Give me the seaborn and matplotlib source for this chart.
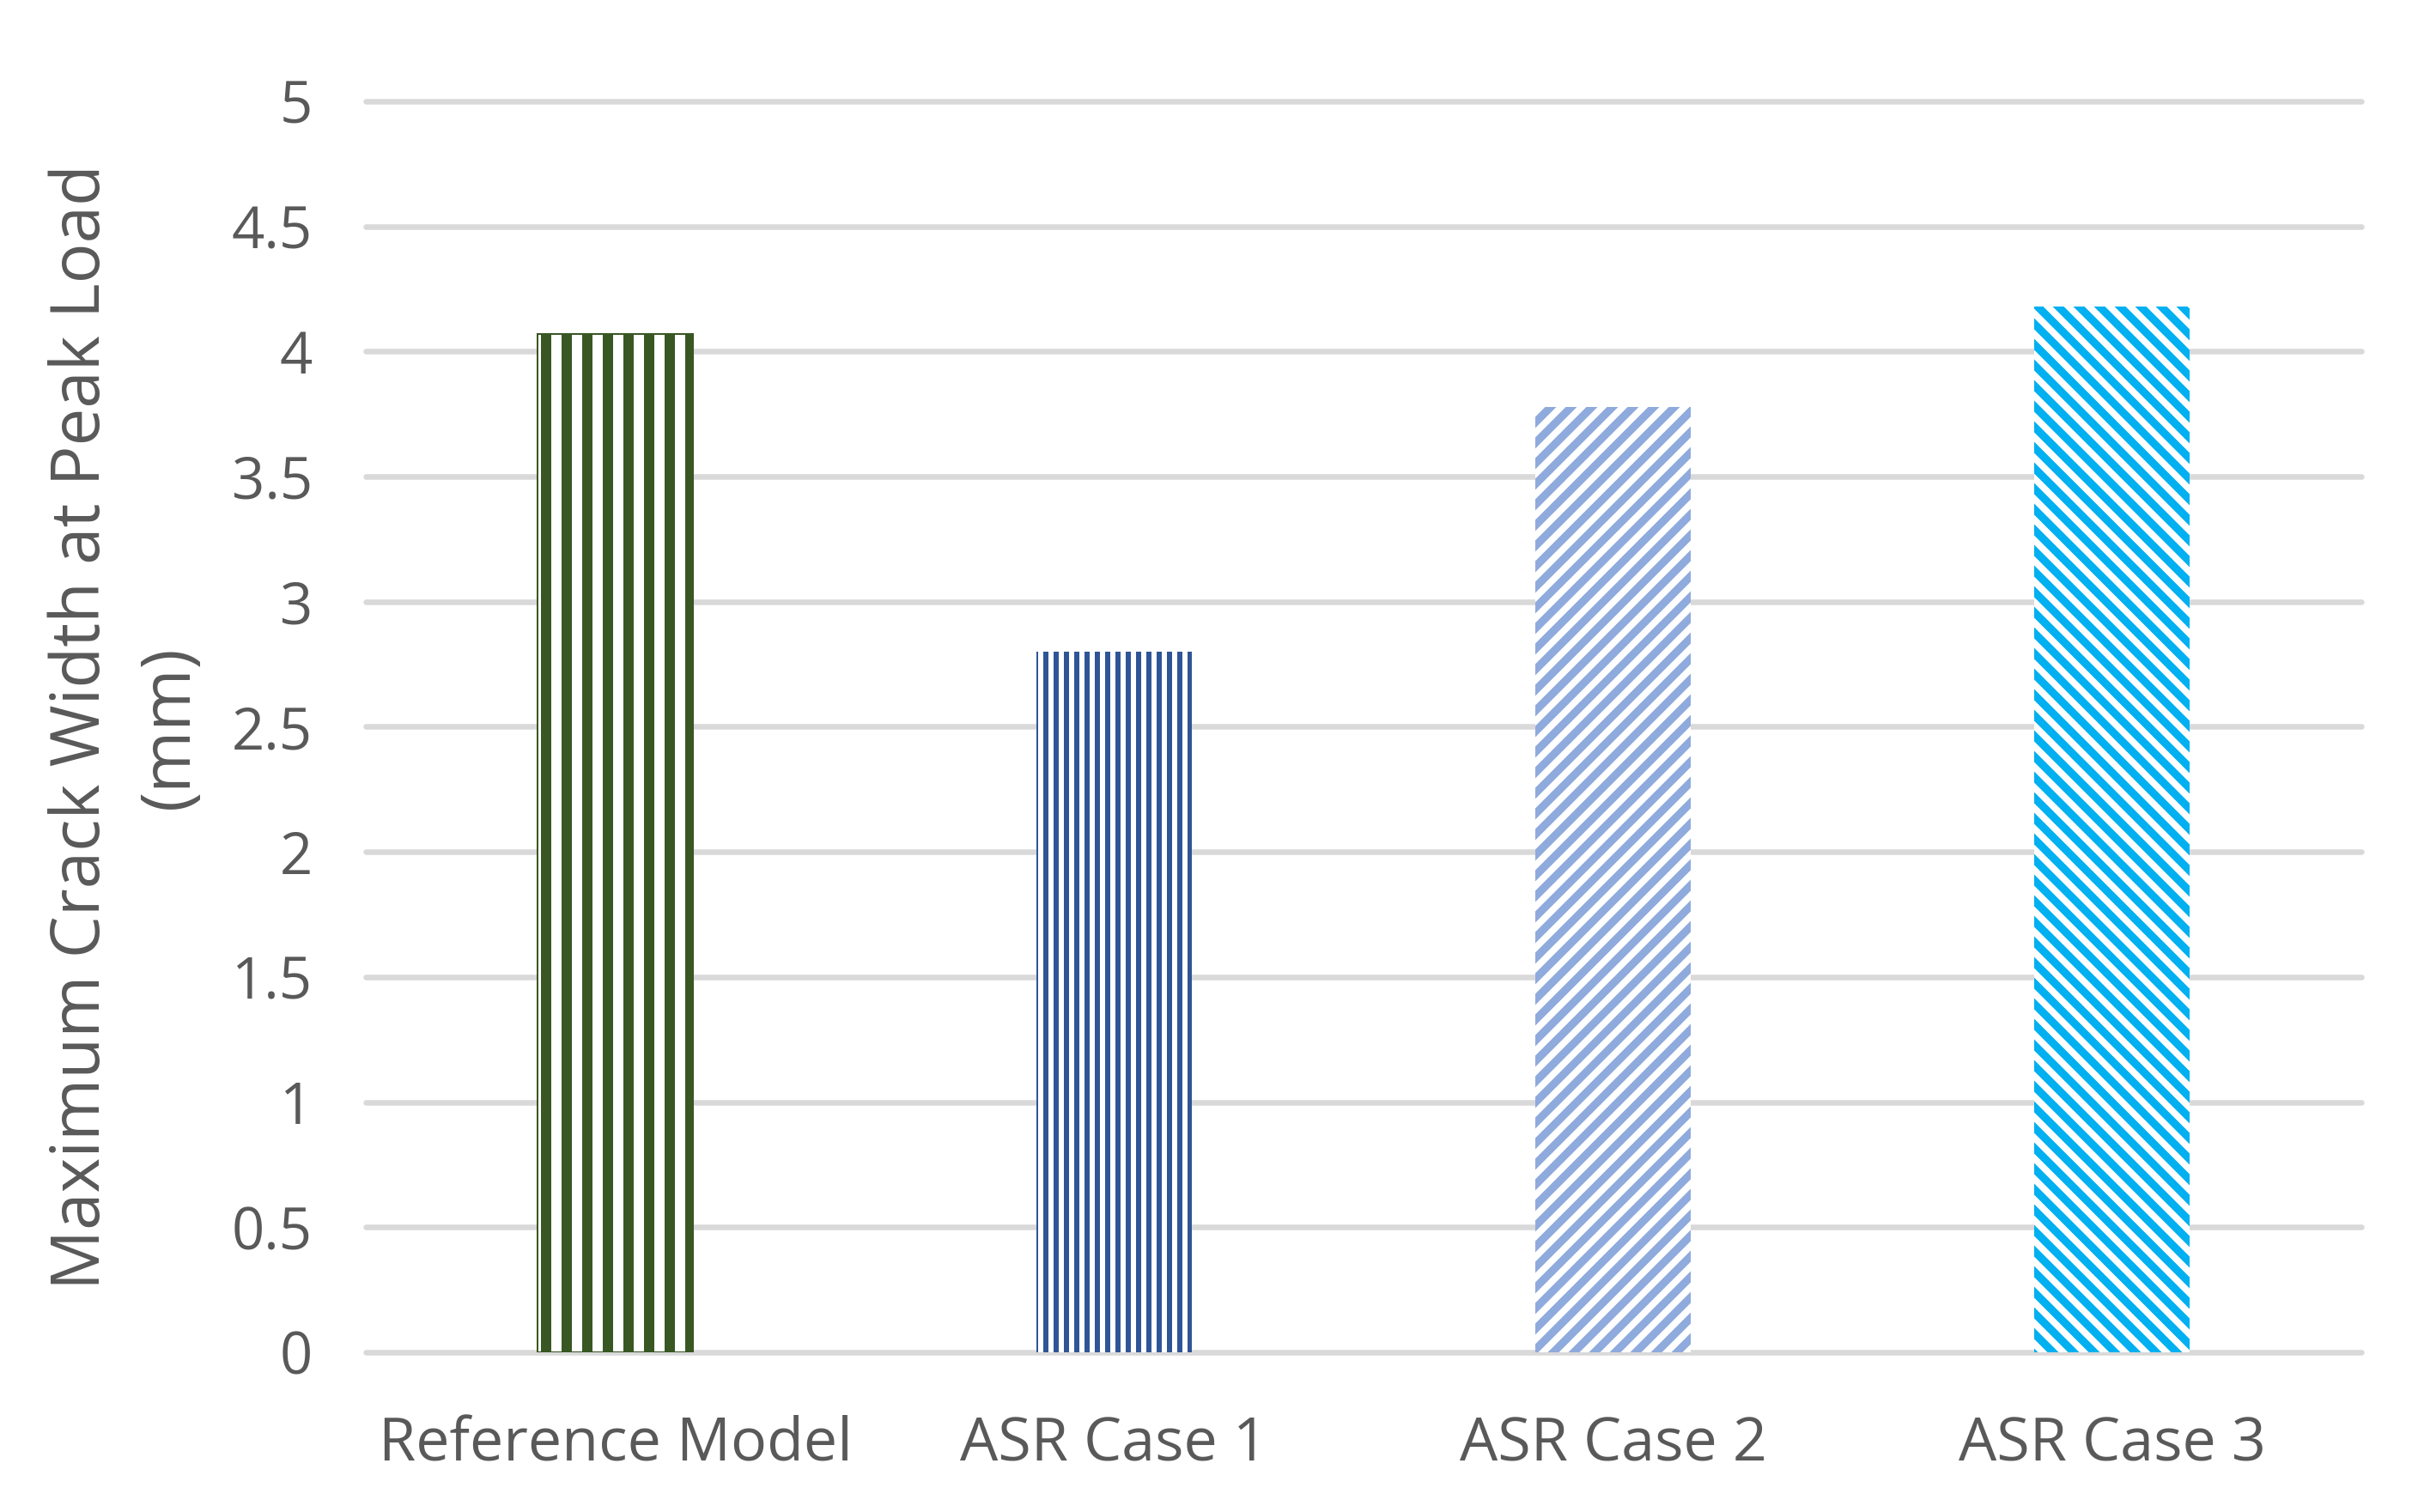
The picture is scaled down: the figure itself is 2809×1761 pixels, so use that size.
"""Bar chart: maximum crack width at peak load for the reference model and three ASR cases."""

import pandas as pd
import matplotlib
matplotlib.use('Agg')
import matplotlib.pyplot as plt
import seaborn as sns


OUT_FILE = 'out.png'

# data
categories = ['Reference Model', 'ASR Case 1', 'ASR Case 2', 'ASR Case 3']
crack_width = [4.07, 2.80, 3.78, 4.18]
y_ticks = [0, 0.5, 1, 1.5, 2, 2.5, 3, 3.5, 4, 4.5, 5]
y_tick_labels = ['0', '0.5', '1', '1.5', '2', '2.5', '3', '3.5', '4', '4.5', '5']

# styling per bar
bar_colors = ['#385723', '#2F5597', '#8FAADC', '#00B0F0']
bar_hatches = ['|', '||', '//', '\\\\']
hatch_widths = [6.0, 3.0, 4.6, 4.6]

TEXT_COLOR = '#595959'
GRID_COLOR = '#D9D9D9'
DPI = 144


def main():
    sns.set_theme(style='white')
    plt.rcParams['font.family'] = ['Open Sans', 'DejaVu Sans']

    df = pd.DataFrame({'Case': categories, 'Width': crack_width})

    fig = plt.figure(figsize=(2809 / DPI, 1761 / DPI), dpi=DPI)
    ax = fig.add_axes([426 / 2809, 1 - 1575 / 1761, 2324 / 2809, 1457 / 1761])

    sns.barplot(data=df, x='Case', y='Width', hue='Case', palette=bar_colors,
                width=0.313, legend=False, ax=ax, zorder=3)

    # white bars with coloured pattern stripes
    for i, patch in enumerate(ax.patches):
        patch.set_facecolor('white')
        patch.set_edgecolor(bar_colors[i])
        patch.set_linewidth(1.0 if i == 0 else 0.0)
        patch.set_hatch(bar_hatches[i])
        if hasattr(patch, 'set_hatch_linewidth'):
            patch.set_hatch_linewidth(hatch_widths[i])

    ax.set_ylim(0, 5)
    ax.set_yticks(y_ticks)
    ax.set_yticklabels(y_tick_labels)
    ax.set_xlim(-0.5, len(categories) - 0.5)

    ax.grid(axis='y', color=GRID_COLOR, linewidth=3.25, zorder=0)
    ax.grid(axis='x', visible=False)
    ax.set_axisbelow(True)
    for tick in ax.yaxis.get_major_ticks():
        tick.gridline.set_clip_on(False)

    for side in ['top', 'right', 'bottom', 'left']:
        ax.spines[side].set_visible(False)

    ax.tick_params(axis='y', length=0, pad=31, labelsize=33.5, labelcolor=TEXT_COLOR)
    ax.tick_params(axis='x', length=0, pad=37, labelsize=35, labelcolor=TEXT_COLOR)

    ax.set_xlabel('')
    ax.set_ylabel('Maximum Crack Width at Peak Load\n(mm)', fontsize=39,
                  color=TEXT_COLOR, linespacing=1.4)
    ax.yaxis.set_label_coords(-0.081, 0.5)

    fig.savefig(OUT_FILE, dpi=DPI, facecolor='white')
    plt.close(fig)


if __name__ == '__main__':
    main()
